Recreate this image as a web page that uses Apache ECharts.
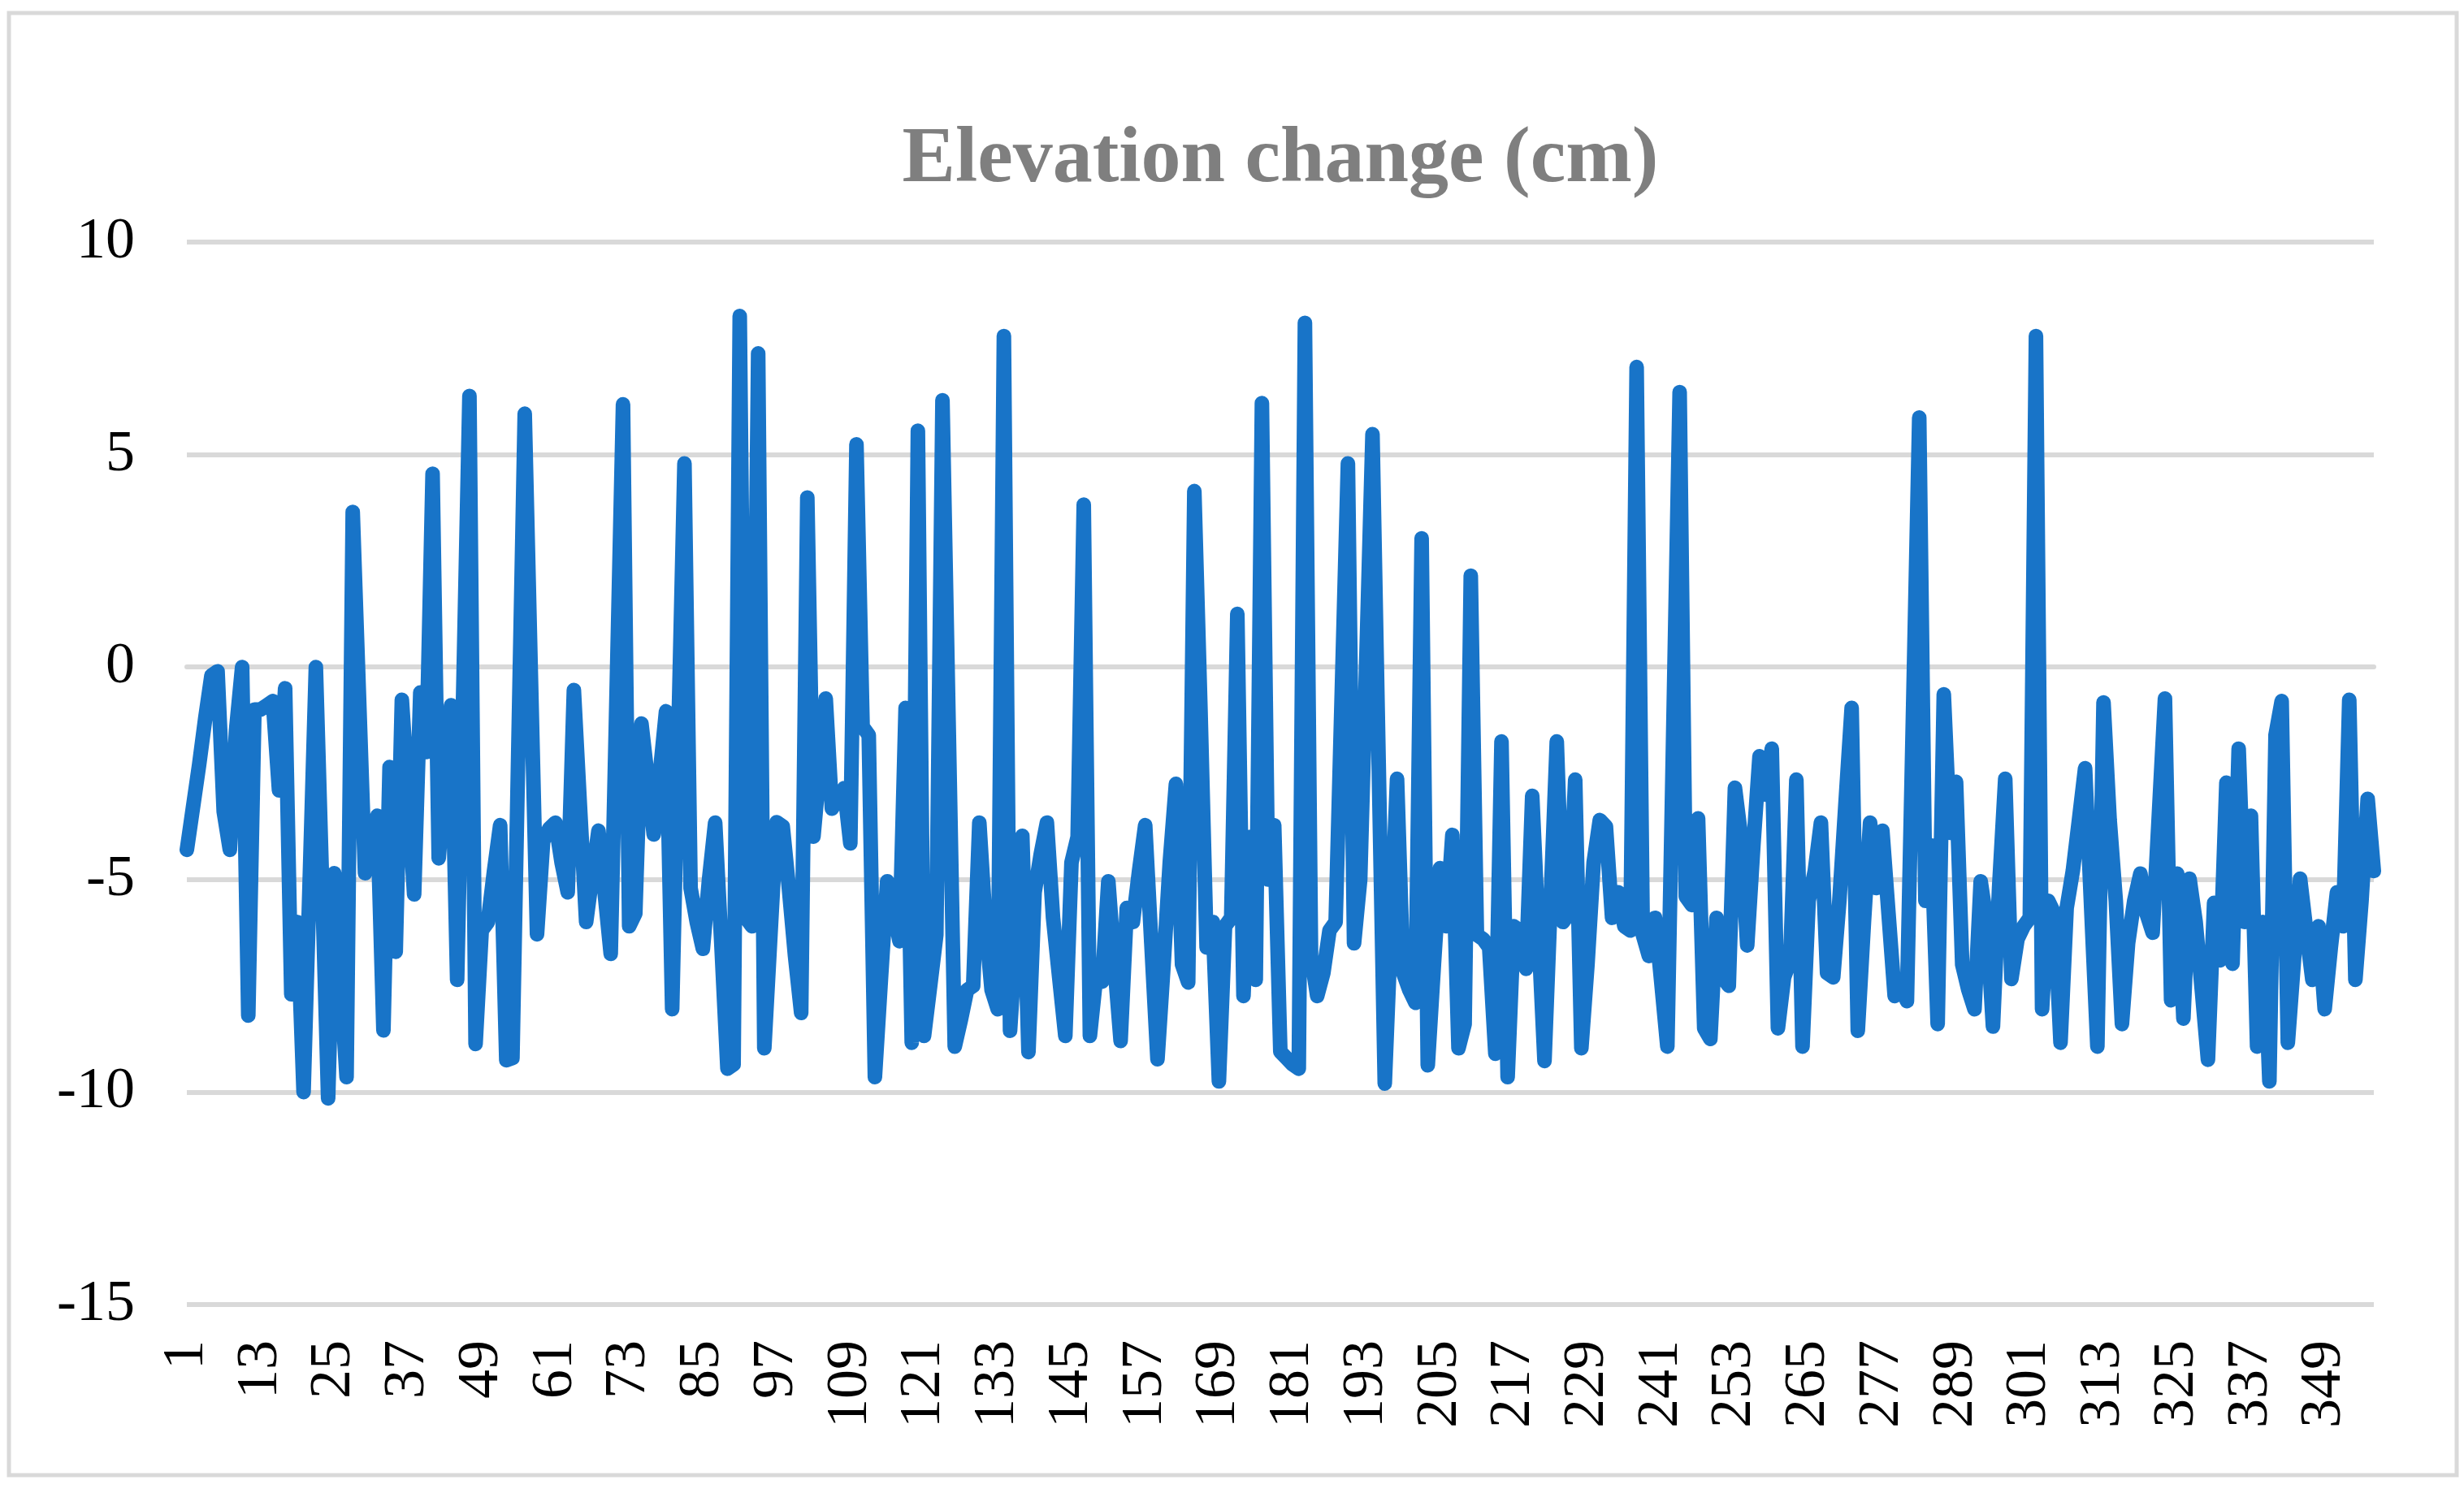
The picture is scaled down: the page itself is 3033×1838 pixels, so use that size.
<!DOCTYPE html>
<html>
<head>
<meta charset="utf-8">
<script src="https://cdn.jsdelivr.net/npm/echarts@6/dist/echarts.min.js"></script>
<style>
html,body{margin:0;padding:0;background:#fff;}
#chart{width:3033px;height:1838px;}
</style>
</head>
<body>
<div id="chart"></div>
<script>
// ---- data ----
const titleText = 'Elevation change (cm)';
const pointCount = 357;
const categories = [];
for (let i = 1; i <= pointCount; i++) categories.push(String(i));
const yTicks = { min: -15, max: 10, step: 5 };
const elevation = [
 -4.3,-3.3,-2.3,-1.2,-0.2,-0.1,-3.4,-4.3,-1.5,0.0,
 -8.2,-1.0,-1.0,-0.9,-0.8,-2.9,-0.5,-7.7,-6.0,-10.0,
 -5.0,0.0,-5.0,-10.15,-4.85,-7.3,-9.65,3.65,-0.6,-4.85,
 -4.2,-3.5,-8.55,-2.35,-6.7,-0.77,-3.0,-5.35,-0.6,-2.0,
 4.55,-4.5,-2.7,-0.9,-7.36,-0.5,6.38,-8.87,-6.2,-6.0,
 -4.8,-3.72,-9.25,-9.2,-1.6,5.96,-0.2,-6.29,-4.1,-3.8,
 -3.66,-4.6,-5.3,-0.54,-3.3,-6.0,-4.9,-3.85,-5.3,-6.75,
 -0.3,6.18,-6.1,-5.8,-1.33,-2.6,-3.94,-2.5,-1.04,-8.05,
 -1.6,4.79,-5.2,-6.0,-6.63,-5.0,-3.66,-6.5,-9.45,-9.35,
 8.26,-5.9,-6.1,7.38,-8.97,-6.3,-3.65,-3.75,-5.2,-6.8,
 -8.14,3.99,-3.99,-2.4,-0.74,-3.33,-3.1,-2.85,-4.15,5.24,
 -1.4,-1.6,-9.65,-7.3,-5.04,-5.7,-6.45,-0.96,-8.84,5.56,
 -8.68,-7.5,-6.3,6.28,-1.3,-8.93,-8.3,-7.6,-7.5,-3.66,
 -6.0,-7.6,-8.05,7.79,-8.56,-6.3,-3.97,-9.06,-5.3,-4.4,
 -3.66,-5.9,-7.3,-8.68,-4.6,-4.0,3.82,-8.68,-7.3,-7.4,
 -5.04,-7.0,-8.8,-5.67,-6.0,-4.8,-3.72,-6.5,-9.23,-7.0,
 -4.6,-2.75,-7.0,-7.42,4.14,-1.0,-6.6,-6.0,-9.75,-6.1,
 -5.9,1.25,-7.74,-4.0,-7.36,6.21,-5.0,-3.72,-9.05,-9.2,
 -9.35,-9.45,8.1,-6.8,-7.74,-7.2,-6.2,-6.0,-0.6,4.79,
 -6.5,-5.0,0.2,5.48,-2.2,-9.8,-6.2,-2.63,-7.2,-7.6,
 -7.9,3.03,-9.37,-7.0,-4.73,-6.1,-3.95,-8.97,-8.4,2.15,
 -6.3,-6.4,-6.6,-9.1,-1.75,-9.65,-6.1,-6.2,-7.1,-3.03,
 -6.2,-9.27,-5.5,-1.75,-6.0,-5.8,-2.65,-8.97,-7.0,-4.6,
 -3.6,-3.75,-5.9,-5.3,-6.1,-6.2,7.06,-6.3,-6.8,-5.9,
 -7.4,-8.93,-1.2,6.47,-5.4,-5.6,-3.56,-8.5,-8.75,-5.9,
 -7.3,-7.5,-2.84,-4.0,-6.55,-4.2,-2.1,-3.0,-1.92,-8.5,
 -7.3,-6.9,-2.65,-8.93,-5.5,-4.8,-3.66,-7.2,-7.3,-5.5,
 -3.2,-0.96,-8.56,-6.0,-3.66,-5.2,-3.85,-5.8,-7.74,-7.5,
 -7.86,-1.0,5.87,-5.5,-4.2,-8.4,-0.64,-3.9,-2.7,-7.0,
 -7.6,-8.05,-5.04,-6.0,-8.46,-5.2,-2.63,-7.34,-6.4,-6.1,
 -5.9,7.79,-8.05,-5.5,-5.8,-8.84,-5.67,-4.8,-3.6,-2.38,
 -5.7,-8.93,-0.83,-3.6,-5.5,-8.4,-6.5,-5.5,-4.86,-5.8,
 -6.25,-3.5,-0.74,-7.84,-4.86,-8.27,-4.98,-6.0,-7.6,-9.24,
 -5.55,-6.9,-2.72,-6.98,-1.92,-6.0,-3.5,-8.93,-6.0,-9.75,
 -1.6,-0.8,-8.84,-6.9,-4.98,-6.2,-7.36,-6.1,-8.05,-6.6,
 -5.3,-6.1,-0.77,-7.36,-5.5,-3.1,-4.8
];

// ---- chart ----
const FONT = '"Liberation Serif","Times New Roman",serif';
const chart = echarts.init(document.getElementById('chart'), null, { renderer: 'canvas' });
chart.setOption({
  backgroundColor: '#ffffff',
  animation: false,
  graphic: [
    {
      type: 'rect',
      shape: { x: 11, y: 16, width: 3013, height: 1800 },
      style: { fill: 'none', stroke: '#d9d9d9', lineWidth: 5 },
      silent: true
    },
    {
      type: 'text',
      x: 1576, y: 198,
      style: {
        text: titleText,
        font: 'bold 98px ' + FONT,
        fill: '#7f7f7f',
        textAlign: 'center',
        textVerticalAlign: 'middle'
      },
      silent: true
    }
  ],
  grid: { left: 230, right: 111, top: 298, bottom: 232, containLabel: false },
  xAxis: {
    type: 'category',
    data: categories,
    boundaryGap: false,
    axisTick: { show: false },
    axisLine: { show: true, lineStyle: { color: '#d9d9d9', width: 6 } },
    axisLabel: {
      interval: 11,
      rotate: 90,
      margin: 44,
      fontSize: 72,
      fontFamily: FONT,
      color: '#000000'
    },
    splitLine: { show: false }
  },
  yAxis: {
    type: 'value',
    min: yTicks.min,
    max: yTicks.max,
    interval: yTicks.step,
    axisLine: { show: false },
    axisTick: { show: false },
    axisLabel: { margin: 64, fontSize: 72, fontFamily: FONT, color: '#000000' },
    splitLine: { show: true, lineStyle: { color: '#d9d9d9', width: 6 } }
  },
  series: [{
    type: 'line',
    data: elevation,
    showSymbol: false,
    symbol: 'none',
    smooth: false,
    lineStyle: { color: '#1874C8', width: 18, join: 'round', cap: 'round' },
    itemStyle: { color: '#1874C8' }
  }]
});
</script>
</body>
</html>
